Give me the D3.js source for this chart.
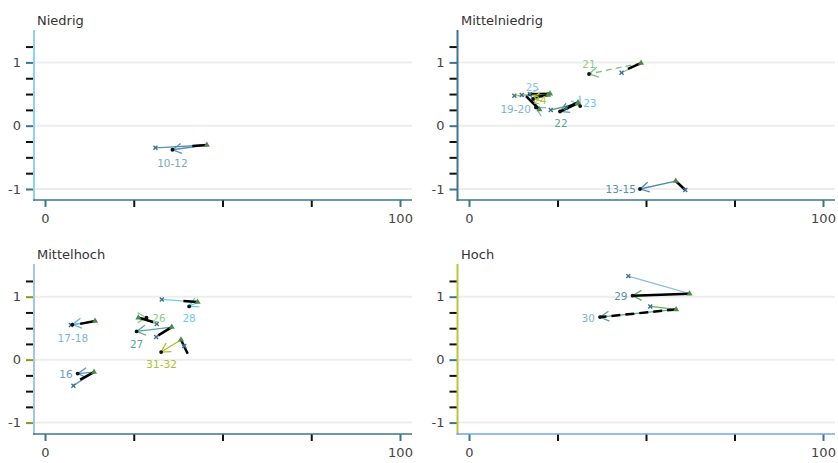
<!DOCTYPE html>
<html><head><meta charset="utf-8">
<script src="https://cdn.jsdelivr.net/npm/d3@7"></script>
<style>body{margin:0;background:#fff}svg{display:block;font-family:"DejaVu Sans",sans-serif}</style>
</head><body><svg id="c" width="838" height="463"></svg>
<script>
// ---------- data ----------
const panelNames = ["Niedrig", "Mittelniedrig", "Mittelhoch", "Hoch"];
const xTickValues = [0, 25, 50, 75, 100];
const yTickValues = [-1, -0.75, -0.5, -0.25, 0, 0.25, 0.5, 0.75, 1, 1.25];
const yGridValues = [-1, 0, 1];

const trajLabel = ["10-12", "13-15", "21", "25", "24", "19-20", "22", "23", "16", "17-18", "26", "27", "28", "31-32", "29", "30"];
const trajPanel = [0, 1, 1, 1, 1, 1, 1, 1, 2, 2, 2, 2, 2, 2, 3, 3];
// start (cross)
const startX = [31.1, 61.1, 43.1, 14.9, 12.8, 17.2, 23.1, 27.4, 8.0, 7.3, 31.5, 31.3, 32.9, 39.2, 45.0, 51.2];
const startY = [-0.35, -1.016, 0.837, 0.485, 0.474, 0.496, 0.248, 0.28, -0.413, 0.549, 0.565, 0.359, 0.957, 0.216, 1.327, 0.846];
// middle (triangle)
const midX = [45.6, 58.4, 48.6, 22.9, 22.3, 19.9, 30.7, 30.8, 13.8, 14.1, 26.3, 35.7, 43.0, 38.3, 62.3, 58.5];
const midY = [-0.305, -0.874, 0.99, 0.506, 0.485, 0.256, 0.351, 0.367, -0.197, 0.613, 0.667, 0.517, 0.914, 0.317, 1.048, 0.798];
// end (dot, arrow tip)
const endX = [35.9, 48.3, 33.9, 17.2, 18.1, 18.9, 25.7, 31.4, 9.2, 7.7, 28.6, 25.8, 40.6, 32.7, 46.2, 37.0];
const endY = [-0.38, -1.0, 0.817, 0.496, 0.422, 0.288, 0.224, 0.31, -0.222, 0.556, 0.667, 0.449, 0.846, 0.121, 1.016, 0.676];
// thick black segment from the triangle to here
const blackX = [41.5, 61.1, 44.9, 17.2, 18.8, 16.1, 25.7, 27.4, 9.9, 9.9, 30.5, 31.9, 39.0, 40.2, 46.2, 37.0];
const blackY = [-0.32, -1.016, 0.896, 0.496, 0.45, 0.469, 0.224, 0.28, -0.317, 0.568, 0.597, 0.386, 0.930, 0.094, 1.016, 0.676];
const arrowDashed = [0, 0, 1, 0, 0, 0, 0, 0, 0, 0, 0, 0, 0, 0, 0, 0];
const blackDashed = [0, 0, 0, 0, 0, 0, 0, 0, 0, 0, 0, 0, 0, 0, 0, 1];

// ---------- styles ----------
const lineColor = {"10-12":"#5a8fb3","13-15":"#4f8aa8","21":"#7cc47c","25":"#8ec1ea","24":"#b5c631","19-20":"#7bb4e3","22":"#5aa594","23":"#5fc8f2","16":"#5b95bd","17-18":"#6daee5","26":"#8fcc85","27":"#5aa594","28":"#6ccaf2","31-32":"#a9c12c","29":"#8cbde9","30":"#5fb35f"};
const arrowColor = {"10-12":"#5a8fb3","13-15":"#4f8aa8","21":"#7cc47c","25":"#8ec1ea","24":"#b5c631","19-20":"#7bb4e3","22":"#5aa594","23":"#5fc8f2","16":"#5b95bd","17-18":"#6daee5","26":"#8fcc85","27":"#5aa594","28":"#6ccaf2","31-32":"#a9c12c","29":"#5fb35f","30":"#5aa58f"};
const labelColor = {"10-12":"#7ba7c4","13-15":"#5b8fb0","21":"#8ccf80","25":"#8ec1ea","24":"#b5c631","19-20":"#7bb4e3","22":"#5aa594","23":"#5fc8f2","16":"#6a9cc0","17-18":"#7bb4e3","26":"#8fcc85","27":"#5aa594","28":"#6ccaf2","31-32":"#a9c12c","29":"#5b8fb0","30":"#7bb4e3"};
// label placement relative to the end dot: [anchor, dx, dy]
const labelPlace = {"10-12":["middle",0,17],"13-15":["end",-4,4],"21":["middle",0,-6],"25":["middle",2.5,-3],"24":["middle",7,5],"19-20":["end",-5,6],"22":["middle",1,15.5],"23":["start",3,1],"16":["end",-5,4.5],"17-18":["middle",0.5,17],"26":["middle",12.5,4],"27":["middle",0,17],"28":["middle",0,15.5],"31-32":["middle",0.5,16],"29":["end",-5,4.5],"30":["end",-5,4.5]};

const panelGeom = [
  {x0:45, x100:400, ax:34, right:412, y1:62.4, ym1:189, top:30, bottom:200, tx:37, ty:25,
   yAxisColor:"#8dd3f3", xAxisColor:"#3d7590", yMajor:"#3d7590", xMajor:"#3d7590"},
  {x0:469, x100:823, ax:457.5, right:835, y1:62.4, ym1:189, top:30, bottom:200, tx:461, ty:25,
   yAxisColor:"#3d7590", xAxisColor:"#3d7590", yMajor:"#3d7590", xMajor:"#3d7590"},
  {x0:45, x100:400, ax:34, right:412, y1:296.7, ym1:422.6, top:264, bottom:434, tx:37, ty:259,
   yAxisColor:"#9cc8ec", xAxisColor:"#3d7590", yMajor:"#8a9a10", xMajor:"#3d7590"},
  {x0:469, x100:823, ax:457.5, right:835, y1:296.7, ym1:422.6, top:264, bottom:434, tx:461, ty:259,
   yAxisColor:"#b8c832", xAxisColor:"#6fa8dc", yMajor:"#3d7590", xMajor:"#3d7590"}
];

const svg = d3.select("#c");
const defs = svg.append("defs");

const scales = panelGeom.map(g => ({
  x: d3.scaleLinear().domain([0, 100]).range([g.x0, g.x100]),
  y: d3.scaleLinear().domain([-1, 1]).range([g.ym1, g.y1])
}));

panelGeom.forEach((g, i) => {
  const {x, y} = scales[i];
  const p = svg.append("g");
  p.selectAll("line.grid").data(yGridValues).join("line")
    .attr("x1", g.ax).attr("x2", g.right)
    .attr("y1", d => y(d)).attr("y2", d => y(d))
    .attr("stroke", "#ededed").attr("stroke-width", 2);
  p.append("text").attr("x", g.tx).attr("y", g.ty).text(panelNames[i])
    .attr("font-size", 13).attr("fill", "#333");
  const ya = p.append("g").attr("transform", `translate(${g.ax},0)`)
    .call(d3.axisLeft(y).tickValues(yTickValues).tickSize(8).tickPadding(5)
      .tickFormat(d => Number.isInteger(d) ? String(d) : ""));
  ya.select(".domain").remove();
  ya.selectAll(".tick line").attr("stroke", d => Number.isInteger(d) ? g.yMajor : "#111").attr("stroke-width", 2);
  ya.selectAll(".tick text").attr("font-size", 13).attr("fill", "#444").attr("font-family", "DejaVu Sans");
  const xa = p.append("g").attr("transform", `translate(0,${g.bottom})`)
    .call(d3.axisBottom(x).tickValues(xTickValues).tickSize(7).tickPadding(7)
      .tickFormat(d => (d === 0 || d === 100) ? d : ""));
  xa.select(".domain").remove();
  xa.selectAll(".tick line").attr("stroke", d => (d === 0 || d === 100) ? g.xMajor : "#111").attr("stroke-width", 2);
  xa.selectAll(".tick text").attr("font-size", 13).attr("fill", "#444").attr("font-family", "DejaVu Sans");
  p.append("line").attr("x1", g.ax).attr("x2", g.ax).attr("y1", g.top).attr("y2", g.bottom + 1)
    .attr("stroke", g.yAxisColor).attr("stroke-width", 2);
  p.append("line").attr("x1", g.ax - 1).attr("x2", g.right).attr("y1", g.bottom).attr("y2", g.bottom)
    .attr("stroke", g.xAxisColor).attr("stroke-width", 1.5);
});

const traj = trajLabel.map((l, i) => ({
  label: l, panel: trajPanel[i],
  ax: startX[i], ay: startY[i], bx: midX[i], by: midY[i],
  cx: endX[i], cy: endY[i], dx: blackX[i], dy: blackY[i],
  arrowDash: arrowDashed[i], blackDash: blackDashed[i], idx: i
}));

traj.forEach(t => {
  defs.append("marker").attr("id", "arr" + t.idx)
    .attr("viewBox", "-10 -6 12 12").attr("refX", 0).attr("refY", 0)
    .attr("markerWidth", 12).attr("markerHeight", 12)
    .attr("markerUnits", "userSpaceOnUse").attr("orient", "auto")
    .append("path").attr("d", "M-9,-5 L0,0 L-9,5")
    .attr("fill", "none").attr("stroke", arrowColor[t.label]).attr("stroke-width", 1.3);
});

const layer = svg.append("g");
traj.forEach(t => {
  const {x, y} = scales[t.panel];
  const g = layer.append("g");
  g.append("line").attr("x1", x(t.ax)).attr("y1", y(t.ay)).attr("x2", x(t.bx)).attr("y2", y(t.by))
    .attr("stroke", lineColor[t.label]).attr("stroke-width", 1.3);
  g.append("line").attr("x1", x(t.bx)).attr("y1", y(t.by)).attr("x2", x(t.cx)).attr("y2", y(t.cy))
    .attr("stroke", arrowColor[t.label]).attr("stroke-width", 1.3)
    .attr("stroke-dasharray", t.arrowDash ? "6,4" : null)
    .attr("marker-end", `url(#arr${t.idx})`);
  g.append("line").attr("x1", x(t.bx)).attr("y1", y(t.by)).attr("x2", x(t.dx)).attr("y2", y(t.dy))
    .attr("stroke", "#000").attr("stroke-width", 2.5)
    .attr("stroke-dasharray", t.blackDash ? "9,5" : null);
});
const xSym = d3.symbol(d3.symbolX || d3.symbolCross, 12)();
traj.forEach(t => {
  const {x, y} = scales[t.panel];
  const g = layer.append("g");
  g.append("path").attr("d", xSym)
    .attr("transform", `translate(${x(t.ax)},${y(t.ay)})`)
    .attr("fill", "none").attr("stroke", "#3f6f91").attr("stroke-width", 1.4);
  g.append("path").attr("d", d3.symbol(d3.symbolTriangle, 16)())
    .attr("transform", `translate(${x(t.bx)},${y(t.by)})`)
    .attr("fill", "#4d8a47");
  g.append("circle").attr("cx", x(t.cx)).attr("cy", y(t.cy)).attr("r", 1.9).attr("fill", "#111");
  const lp = labelPlace[t.label];
  g.append("text").attr("x", x(t.cx) + lp[1]).attr("y", y(t.cy) + lp[2])
    .attr("text-anchor", lp[0]).attr("font-size", 10.5).attr("fill", labelColor[t.label])
    .text(t.label);
});
</script></body></html>
